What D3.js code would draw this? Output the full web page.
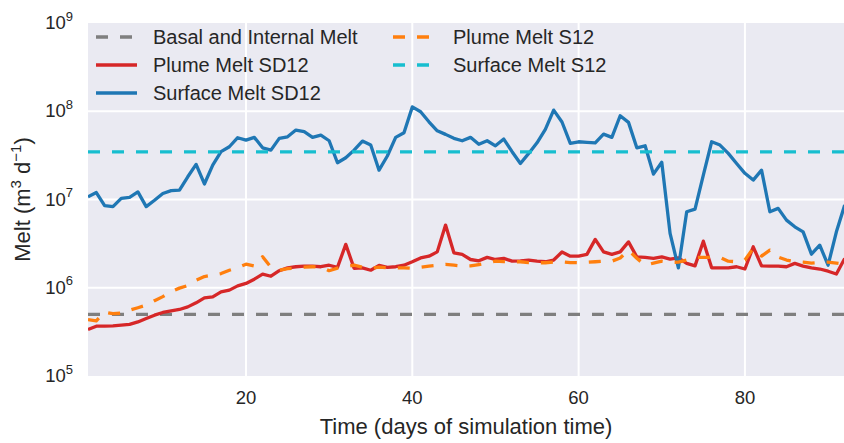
<!DOCTYPE html>
<html>
<head>
<meta charset="utf-8">
<script src="https://cdn.jsdelivr.net/npm/d3@7"></script>
<style>
  body { margin: 0; background: #fff; }
  text { font-family: "Liberation Sans", Arial, sans-serif; fill: #262626; }
</style>
</head>
<body>
<div id="d3-container"></div>
<script>
//CONSTANTS AND GLOBALS
const width = 844,
  height = 443,
  margin = { top: 23, bottom: 67, left: 88, right: -1 };

// DATA (one value per simulation day)
const days = d3.range(1, 93);

const surfaceSD12 = [
  1.07e7, 1.20e7, 8.5e6, 8.3e6, 1.03e7, 1.06e7, 1.22e7, 8.3e6, 9.8e6, 1.17e7,
  1.26e7, 1.28e7, 1.81e7, 2.50e7, 1.50e7, 2.45e7, 3.48e7, 3.96e7, 5.01e7, 4.71e7,
  5.06e7, 3.85e7, 3.63e7, 4.93e7, 5.14e7, 6.12e7, 5.86e7, 5.06e7, 5.37e7, 4.63e7,
  2.61e7, 2.97e7, 3.63e7, 4.59e7, 4.14e7, 2.15e7, 3.11e7, 5.06e7, 5.70e7, 1.12e8,
  9.87e7, 7.60e7, 6.01e7, 5.47e7, 4.93e7, 4.63e7, 5.06e7, 4.22e7, 4.63e7, 4.06e7,
  4.84e7, 3.48e7, 2.56e7, 3.33e7, 4.39e7, 6.24e7, 1.03e8, 7.55e7, 4.33e7, 4.51e7,
  4.44e7, 4.39e7, 5.51e7, 5.06e7, 8.89e7, 7.48e7, 3.85e7, 4.06e7, 1.94e7, 2.64e7,
  4.13e6, 1.68e6, 7.26e6, 7.79e6, 1.89e7, 4.51e7, 4.14e7, 3.33e7, 2.56e7, 1.98e7,
  1.66e7, 2.15e7, 7.26e6, 7.93e6, 5.84e6, 4.90e6, 4.30e6, 2.40e6, 3.04e6, 1.80e6,
  4.30e6, 8.65e6
];

const plumeSD12 = [
  3.37e5, 3.67e5, 3.67e5, 3.70e5, 3.77e5, 3.84e5, 4.10e5, 4.49e5, 4.89e5, 5.25e5,
  5.47e5, 5.67e5, 6.07e5, 6.75e5, 7.69e5, 7.89e5, 8.99e5, 9.40e5, 1.05e6, 1.12e6,
  1.25e6, 1.43e6, 1.35e6, 1.56e6, 1.68e6, 1.73e6, 1.76e6, 1.76e6, 1.73e6, 1.80e6,
  1.70e6, 3.10e6, 1.66e6, 1.68e6, 1.58e6, 1.79e6, 1.70e6, 1.73e6, 1.80e6, 1.97e6,
  2.18e6, 2.28e6, 2.55e6, 5.13e6, 2.49e6, 2.39e6, 2.09e6, 2.02e6, 2.21e6, 2.09e6,
  2.15e6, 2.00e6, 2.02e6, 2.06e6, 2.00e6, 1.97e6, 2.06e6, 2.54e6, 2.28e6, 2.28e6,
  2.39e6, 3.53e6, 2.55e6, 2.39e6, 2.55e6, 3.31e6, 2.24e6, 2.21e6, 2.15e6, 2.24e6,
  2.11e6, 2.18e6, 1.89e6, 1.77e6, 3.37e6, 1.68e6, 1.68e6, 1.68e6, 1.73e6, 1.63e6,
  2.91e6, 1.77e6, 1.76e6, 1.76e6, 1.73e6, 1.89e6, 1.76e6, 1.68e6, 1.63e6, 1.54e6,
  1.43e6, 2.15e6
];

const plumeS12 = [
  4.35e5, 4.22e5, 5.29e5, 5.08e5, 5.15e5, 5.57e5, 5.94e5, 6.35e5, 7.14e5, 7.93e5,
  9.03e5, 9.90e5, 1.06e6, 1.22e6, 1.34e6, 1.39e6, 1.45e6, 1.58e6, 1.69e6, 1.85e6,
  1.76e6, 2.25e6, 1.71e6, 1.58e6, 1.65e6, 1.67e6, 1.71e6, 1.73e6, 1.72e6, 1.56e6,
  1.67e6, 1.73e6, 1.80e6, 1.71e6, 1.66e6, 1.71e6, 1.69e6, 1.68e6, 1.68e6, 1.66e6,
  1.71e6, 1.76e6, 1.80e6, 1.84e6, 1.80e6, 1.76e6, 1.77e6, 1.83e6, 1.90e6, 2.00e6,
  1.98e6, 1.97e6, 1.97e6, 1.93e6, 1.92e6, 1.92e6, 1.95e6, 1.97e6, 1.93e6, 1.92e6,
  1.94e6, 1.97e6, 2.00e6, 2.00e6, 2.17e6, 2.67e6, 2.16e6, 1.80e6, 1.90e6, 2.00e6,
  1.94e6, 1.95e6, 2.06e6, 2.21e6, 2.21e6, 2.21e6, 2.21e6, 2.00e6, 1.97e6, 2.06e6,
  2.79e6, 2.28e6, 2.67e6, 2.23e6, 2.06e6, 1.98e6, 1.95e6, 1.90e6, 1.93e6, 1.95e6,
  1.90e6, 1.84e6
];

// constant rates
const basalMelt = 5.0e5;
const surfaceS12 = 3.47e7;

const xTicks = [20, 40, 60, 80];
const yTicks = [1e5, 1e6, 1e7, 1e8, 1e9];

// series in legend order (matplotlib fills the 2 columns top to bottom)
const series = [
  { name: "Basal and Internal Melt", color: "#7f7f7f", dashed: true, values: days.map(() => basalMelt) },
  { name: "Plume Melt SD12", color: "#d62728", dashed: false, values: plumeSD12 },
  { name: "Surface Melt SD12", color: "#1f77b4", dashed: false, values: surfaceSD12 },
  { name: "Plume Melt S12", color: "#ff7f0e", dashed: true, values: plumeS12 },
  { name: "Surface Melt S12", color: "#17becf", dashed: true, values: days.map(() => surfaceS12) }
];

// SCALES
const xScale = d3.scaleLinear()
  .domain([1, 92])
  .range([margin.left, 844.7]);

const yScale = d3.scaleLog()
  .domain([1e5, 1e9])
  .range([height - margin.bottom, margin.top]);

const svg = d3.select("#d3-container")
  .append("svg")
  .attr("width", width)
  .attr("height", height);

const plotW = width - margin.left,
  plotH = height - margin.bottom - margin.top;

// axes background + grid (seaborn darkgrid look)
svg.append("rect")
  .attr("x", margin.left)
  .attr("y", margin.top)
  .attr("width", plotW)
  .attr("height", plotH)
  .attr("fill", "#eaeaf2");

svg.append("defs").append("clipPath")
  .attr("id", "clip")
  .append("rect")
  .attr("x", margin.left)
  .attr("y", margin.top)
  .attr("width", plotW)
  .attr("height", plotH);

svg.append("g")
  .selectAll("line")
  .data(xTicks)
  .join("line")
  .attr("x1", d => xScale(d))
  .attr("x2", d => xScale(d))
  .attr("y1", margin.top)
  .attr("y2", height - margin.bottom)
  .attr("stroke", "#fff")
  .attr("stroke-width", 2);

svg.append("g")
  .selectAll("line")
  .data(yTicks.slice(1, -1))
  .join("line")
  .attr("x1", margin.left)
  .attr("x2", width)
  .attr("y1", d => yScale(d))
  .attr("y2", d => yScale(d))
  .attr("stroke", "#fff")
  .attr("stroke-width", 2);

// tick labels
svg.append("g")
  .selectAll("text")
  .data(xTicks)
  .join("text")
  .attr("x", d => xScale(d))
  .attr("y", height - margin.bottom + 28)
  .attr("text-anchor", "middle")
  .attr("font-size", 18.5)
  .text(d => d);

const yLab = svg.append("g")
  .selectAll("text")
  .data(yTicks)
  .join("text")
  .attr("x", 73)
  .attr("y", d => yScale(d) + 6)
  .attr("text-anchor", "end")
  .attr("font-size", 18.5);
yLab.append("tspan").text("10");
yLab.append("tspan")
  .attr("dy", -8.5)
  .attr("font-size", 13)
  .text(d => Math.round(Math.log10(d)));

// axis titles
svg.append("text")
  .attr("x", margin.left + plotW / 2)
  .attr("y", 434)
  .attr("text-anchor", "middle")
  .attr("font-size", 22)
  .text("Time (days of simulation time)");

const yTitle = svg.append("text")
  .attr("transform", `translate(30,${margin.top + plotH / 2}) rotate(-90)`)
  .attr("text-anchor", "middle")
  .attr("font-size", 22);
yTitle.append("tspan").text("Melt (m");
yTitle.append("tspan").attr("dy", -9).attr("font-size", 15).text("3");
yTitle.append("tspan").attr("dy", 9).text(" d");
yTitle.append("tspan").attr("dy", -9).attr("font-size", 15).text("\u22121");
yTitle.append("tspan").attr("dy", 9).text(")");

// LINES
const line = d3.line()
  .x((d, i) => xScale(days[i]))
  .y(d => yScale(d));

svg.append("g")
  .attr("clip-path", "url(#clip)")
  .selectAll("path")
  .data(series)
  .join("path")
  .attr("d", d => line(d.values))
  .attr("fill", "none")
  .attr("stroke", d => d.color)
  .attr("stroke-width", 3.3)
  .attr("stroke-linejoin", "round")
  .attr("stroke-dasharray", d => d.dashed ? "12,12" : null);

// LEGEND (2 columns, no frame)
const legend = svg.append("g")
  .selectAll("g")
  .data(series)
  .join("g")
  .attr("transform", (d, i) => i < 3
    ? `translate(96,${37 + i * 28})`
    : `translate(393,${37 + (i - 3) * 28})`);

legend.append("line")
  .attr("x1", 0)
  .attr("x2", 41)
  .attr("stroke", d => d.color)
  .attr("stroke-width", 3.3)
  .attr("stroke-dasharray", d => d.dashed ? "12,12" : null);

legend.append("text")
  .attr("x", d => d.dashed && d.name !== "Basal and Internal Melt" ? 60 : 57)
  .attr("y", 7)
  .attr("font-size", 20)
  .text(d => d.name);
</script>
</body>
</html>
